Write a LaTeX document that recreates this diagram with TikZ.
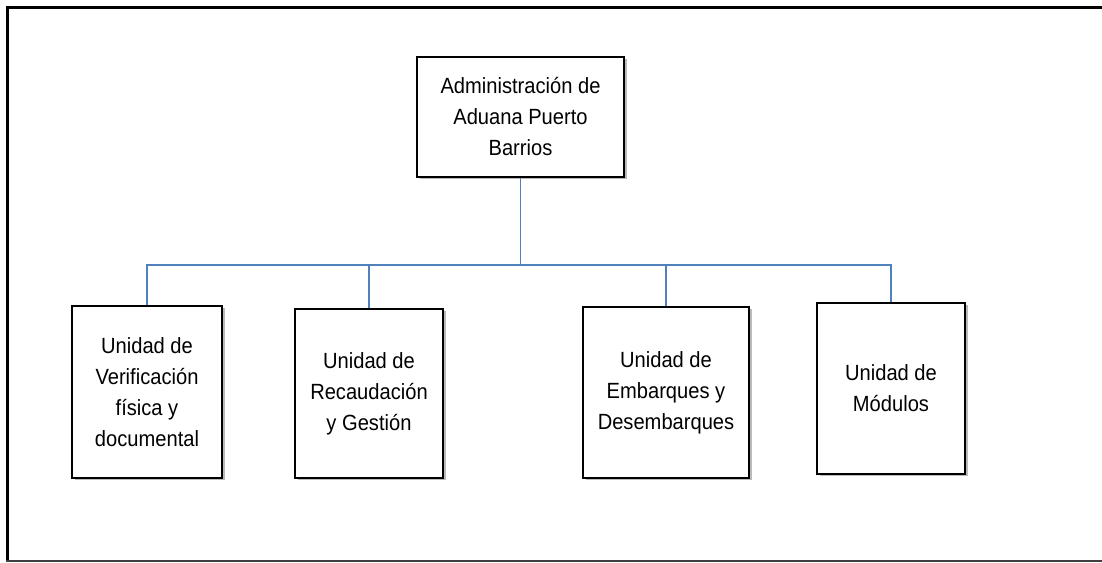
\documentclass[tikz,border=0pt]{standalone}
\usepackage{fontspec}
\setmainfont[FakeStretch=0.915]{Liberation Sans}
\usetikzlibrary{shadows}

\definecolor{azulrama}{RGB}{79,129,189}

\tikzset{
	caja/.style={draw=black, line width=2pt, fill=white, align=center,
		font=\fontsize{22}{31}\selectfont, inner sep=0pt,
		drop shadow={shadow xshift=2.5pt, shadow yshift=-2.5pt, opacity=0.45, fill=black!60}},
	rama/.style={draw=azulrama, line width=1.6pt}
}

\begin{document}
\begin{tikzpicture}[x=1pt, y=1pt]
		\useasboundingbox (0,0) rectangle (1102,562);

		% marco
		\draw[line width=3.5pt] (7.5,1) -- (7.5,554.5) -- (1102,554.5);
		\draw[line width=2pt, black!75] (6,1.5) -- (1102,1.5);

		% cajas
		\node[caja, minimum width=207pt, minimum height=120pt] (adm) at (520.5,445)
			{Administración de\\Aduana Puerto\\Barrios};

		\node[caja, minimum width=150pt, minimum height=172pt] (verif) at (147,170)
			{Unidad de\\Verificación\\física y\\documental};
		\node[caja, minimum width=148pt, minimum height=169pt] (recaud) at (369,168.5)
			{Unidad de\\Recaudación\\y Gestión};
		\node[caja, minimum width=166pt, minimum height=171pt] (embarq) at (666,169.5)
			{Unidad de\\Embarques y\\Desembarques};
		\node[caja, minimum width=148pt, minimum height=171pt] (modul) at (891,173.5)
			{Unidad de\\Módulos};

		% ramas
		\coordinate (bus) at (520.5,297);
		\draw[rama] (adm) -- (bus);
		\foreach \u in {verif, recaud, embarq, modul}
			\draw[rama] (bus) -| (\u.north);
	\end{tikzpicture}
\end{document}
